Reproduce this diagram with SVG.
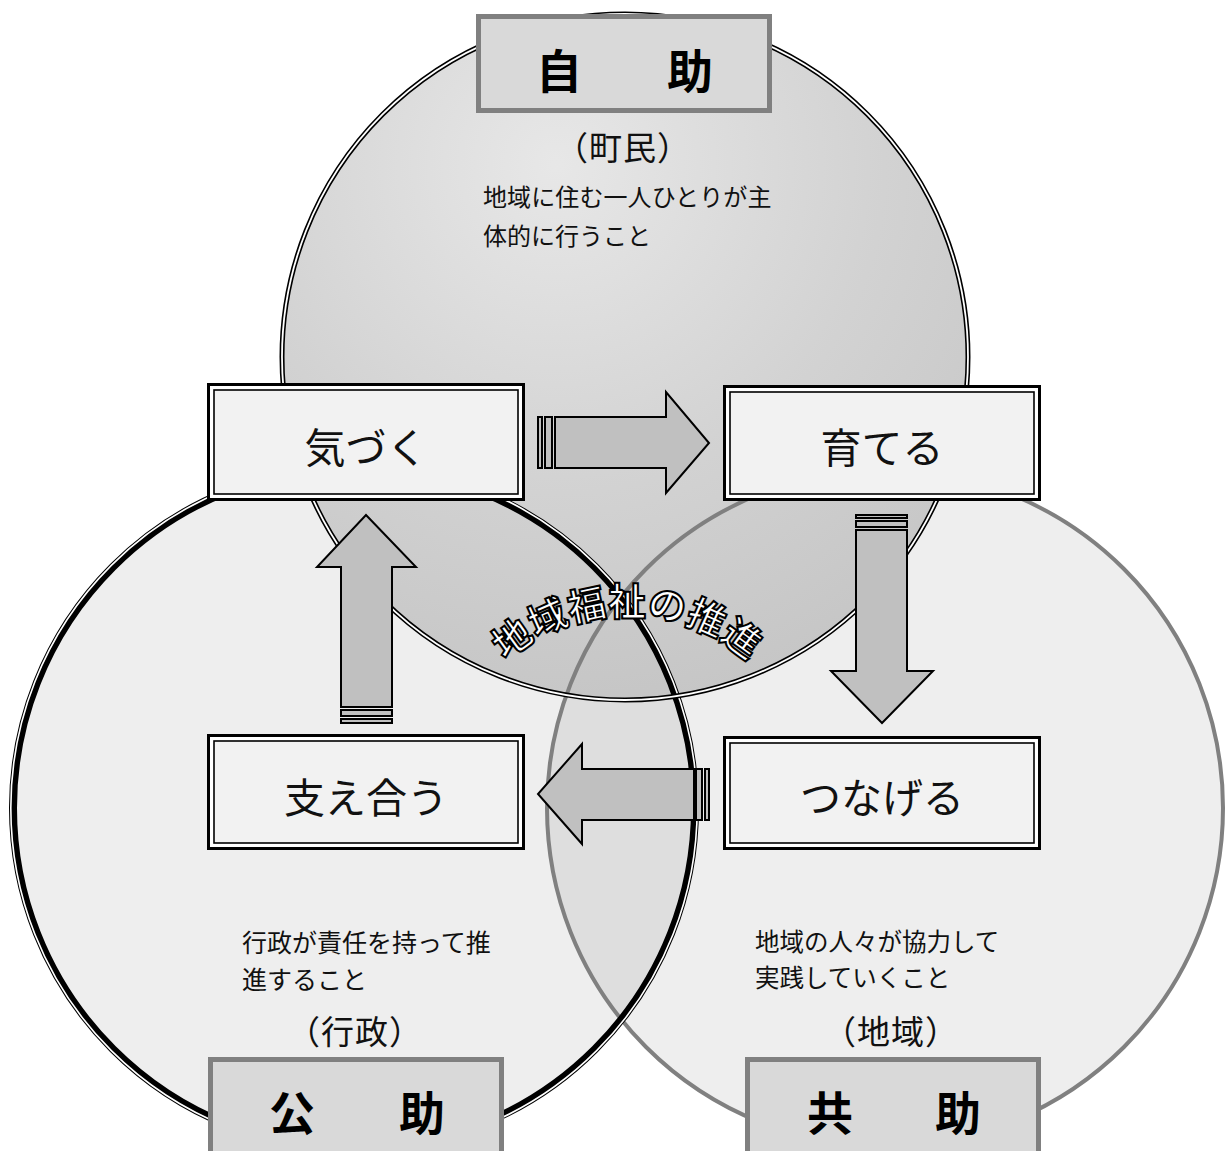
<svg xmlns="http://www.w3.org/2000/svg" width="1225" height="1151" viewBox="0 0 1225 1151">
<style>
.t{font-family:"Noto Sans CJK JP","Noto Sans CJK SC",sans-serif;fill:#111}
.par{font-size:33px;letter-spacing:1px;text-anchor:middle}
.lbl{font-family:"Noto Sans CJK JP",sans-serif;font-weight:700;font-size:46px;fill:#000;text-anchor:middle}
.bx{font-family:"Noto Sans CJK JP",sans-serif;font-size:41px;fill:#111;text-anchor:middle}
.outer{fill:#fff;stroke:#000;stroke-width:3}
.inner{fill:#f2f2f2;stroke:#000;stroke-width:1.6}
.tag{fill:#d9d9d9;stroke:#808080;stroke-width:5}
.arr{fill:#c0c0c0;stroke:#000;stroke-width:2;stroke-linejoin:miter}
</style>
<defs>
<radialGradient id="gTop" cx="0.4" cy="0.22" r="0.85">
<stop offset="0" stop-color="#e6e6e6"/>
<stop offset="0.55" stop-color="#d0d0d0"/>
<stop offset="1" stop-color="#c2c2c2"/>
</radialGradient>
<path id="arcText" d="M 445,797 A 182 182 0 0 1 809,797"/>
</defs>
<rect width="1225" height="1151" fill="#fff"/>

<g id="circles">
<circle id="circle-left" cx="354" cy="808" r="342" fill="#000" fill-opacity="0.065"/>
<circle id="circle-right" cx="885" cy="808" r="338" fill="#000" fill-opacity="0.065"/>
<circle id="circle-top" cx="625" cy="357" r="343" fill="url(#gTop)" fill-opacity="0.95"/>
<circle cx="885" cy="808" r="338" fill="none" stroke="#808080" stroke-width="4"/>
<circle cx="354" cy="808" r="341" fill="none" stroke="#000" stroke-width="8"/>
<circle cx="354" cy="808" r="343.2" fill="none" stroke="#fff" stroke-width="1.6"/>
<circle cx="625" cy="357" r="343" fill="none" stroke="#000" stroke-width="5"/>
<circle cx="625" cy="357" r="343" fill="none" stroke="#fff" stroke-width="1.8"/>
</g>

<g id="label-jijo">
<rect class="tag" x="478.5" y="16.5" width="291" height="94"/>
<text class="lbl" x="559" y="88">自</text>
<text class="lbl" x="690" y="88">助</text>
</g>
<g id="label-kojo">
<rect class="tag" x="210.5" y="1059.5" width="291" height="100"/>
<text class="lbl" x="292" y="1130">公</text>
<text class="lbl" x="422" y="1130">助</text>
</g>
<g id="label-kyojo">
<rect class="tag" x="747.5" y="1059.5" width="291" height="100"/>
<text class="lbl" x="830" y="1130">共</text>
<text class="lbl" x="958" y="1130">助</text>
</g>

<g id="text-top" class="t">
<text class="par" x="623" y="160">（町民）</text>
<text x="483" y="206" font-size="24" letter-spacing="0.1">地域に住む一人ひとりが主</text>
<text x="483" y="245" font-size="24">体的に行うこと</text>
</g>
<g id="text-left" class="t">
<text x="242" y="952" font-size="25">行政が責任を持って推</text>
<text x="242" y="989" font-size="25">進すること</text>
<text class="par" x="355" y="1044">（行政）</text>
</g>
<g id="text-right" class="t">
<text x="755" y="951" font-size="24.5">地域の人々が協力して</text>
<text x="755" y="987" font-size="24.5">実践していくこと</text>
<text class="par" x="891" y="1044">（地域）</text>
</g>

<g id="node-kizuku">
<rect class="outer" x="208.5" y="384.5" width="315" height="115"/>
<rect class="inner" x="214" y="390" width="304" height="104"/>
<text class="bx" x="366" y="463">気づく</text>
</g>
<g id="node-sodateru">
<rect class="outer" x="724.5" y="386.5" width="315" height="113"/>
<rect class="inner" x="730" y="392" width="304" height="102"/>
<text class="bx" x="882" y="463">育てる</text>
</g>
<g id="node-sasaeau">
<rect class="outer" x="208.5" y="735.5" width="315" height="113"/>
<rect class="inner" x="214" y="741" width="304" height="102"/>
<text class="bx" x="366" y="813">支え合う</text>
</g>
<g id="node-tsunageru">
<rect class="outer" x="724.5" y="737.5" width="315" height="111"/>
<rect class="inner" x="730" y="743" width="304" height="100"/>
<text class="bx" x="882" y="813">つなげる</text>
</g>

<g id="connectors">
<g id="arrow-right">
<rect class="arr" x="538" y="417" width="4" height="51" stroke-width="1.5"/>
<rect class="arr" x="545" y="417" width="7" height="51" stroke-width="1.5"/>
<polygon class="arr" points="555,417 666,417 666,392 709,443 666,493 666,468 555,468"/>
</g>
<g id="arrow-down">
<rect class="arr" x="856" y="515" width="51" height="3" stroke-width="1.5"/>
<rect class="arr" x="856" y="521" width="51" height="6" stroke-width="1.5"/>
<polygon class="arr" points="856,530 907,530 907,671 933,671 882,723 831,671 856,671"/>
</g>
<g id="arrow-left">
<rect class="arr" x="705" y="769" width="4" height="51" stroke-width="1.5"/>
<rect class="arr" x="696" y="769" width="6" height="51" stroke-width="1.5"/>
<polygon class="arr" points="694,769 582,769 582,744 538,794 582,844 582,820 694,820"/>
</g>
<g id="arrow-up">
<rect class="arr" x="341" y="719" width="51" height="4" stroke-width="1.5"/>
<rect class="arr" x="341" y="710" width="51" height="6" stroke-width="1.5"/>
<polygon class="arr" points="341,707 392,707 392,567 416,567 366,515 317,567 341,567"/>
</g>
</g>

<g id="title-curved">
<text font-family="'Noto Sans CJK JP',sans-serif" font-size="38" font-weight="700" fill="#fff" stroke="#000" stroke-width="2"><textPath href="#arcText" startOffset="50%" text-anchor="middle">地域福祉の推進</textPath></text>
</g>
</svg>
